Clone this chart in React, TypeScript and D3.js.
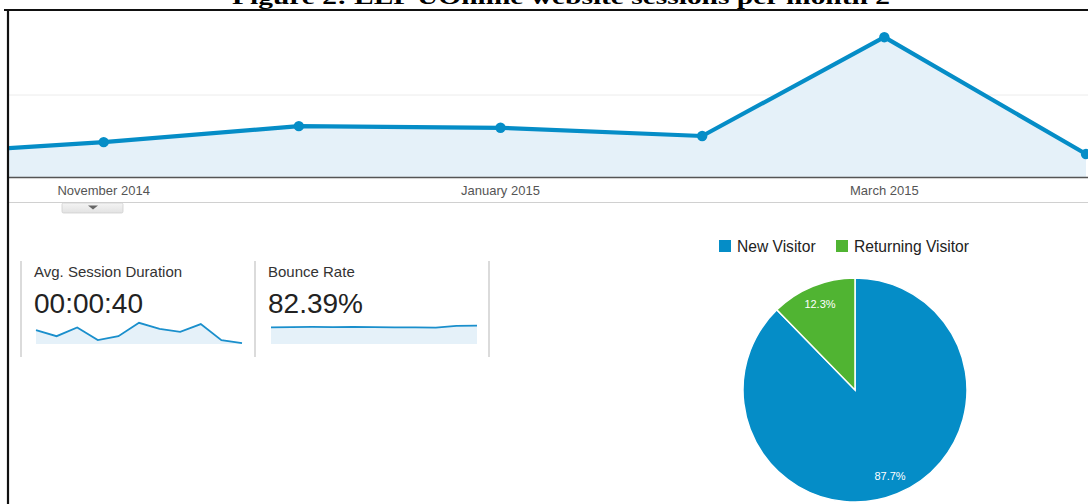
import React from "react";
import * as d3 from "d3";

const months = ["2014-10-01", "2014-11-01", "2014-12-01", "2015-01-01", "2015-02-01", "2015-03-01", "2015-04-01"];
const sessions = [54, 85, 124, 120, 100, 341, 56];
const axisTicks = ["2014-11-01", "2015-01-01", "2015-03-01"];
const tickLabels = ["November 2014", "January 2015", "March 2015"];

const durationSpark = [32, 18, 38, 9, 18, 49, 35, 28, 46, 9, 2];
const bounceSpark = [78.5, 78.8, 79.4, 79.1, 79.7, 79.1, 78.2, 78.2, 77.9, 82.0, 82.6];

const visitorTypes = ["New Visitor", "Returning Visitor"];
const visitorShares = [87.7, 12.3];
const visitorColors = ["#058dc7", "#50b432"];

const title = "Figure 2: EEP UOnline website sessions per month 2";

const W = 1088;
const H = 504;
const parse = d3.timeParse("%Y-%m-%d");

export default function App() {
  const x = d3.scaleTime().domain([parse(months[0])!, parse(months[months.length - 1])!]).range([-98, 1086]);
  const y = d3.scaleLinear().domain([0, 400]).range([177, 13]);
  const pts = months.map((m, i) => ({ d: parse(m)!, v: sessions[i] }));
  const line = d3.line<any>().x((p) => x(p.d)).y((p) => y(p.v));
  const area = d3.area<any>().x((p) => x(p.d)).y0(y(0)).y1((p) => y(p.v));

  const sx1 = d3.scaleLinear().domain([0, durationSpark.length - 1]).range([36, 242]);
  const sy1 = d3.scaleLinear().domain([0, 60]).range([344, 318]);
  const sl1 = d3.line<number>().x((_, i) => sx1(i)).y((v) => sy1(v));
  const sa1 = d3.area<number>().x((_, i) => sx1(i)).y0(344).y1((v) => sy1(v));

  const sx2 = d3.scaleLinear().domain([0, bounceSpark.length - 1]).range([271, 477]);
  const sy2 = d3.scaleLinear().domain([40, 100]).range([344, 318]);
  const sl2 = d3.line<number>().x((_, i) => sx2(i)).y((v) => sy2(v));
  const sa2 = d3.area<number>().x((_, i) => sx2(i)).y0(344).y1((v) => sy2(v));

  const pie = d3.pie<number>().sort(null).value((v) => v)(visitorShares);
  const R = 112;
  const arc = d3.arc<any>().innerRadius(0).outerRadius(R);
  const labelArc = d3.arc<any>().innerRadius(R * 0.83).outerRadius(R * 0.83);

  return (
    <svg width={W} height={H} style={{ position: "absolute", left: 0, top: 0, background: "#fff" }}
      fontFamily="Arial, 'Liberation Sans', sans-serif">
      <defs>
        <clipPath id="plot"><rect x={9} y={11} width={W - 9} height={170} /></clipPath>
        <linearGradient id="tab" x1="0" y1="0" x2="0" y2="1">
          <stop offset="0" stopColor="#f4f4f4" />
          <stop offset="1" stopColor="#e2e2e2" />
        </linearGradient>
      </defs>
      <text x={561} y={4} textAnchor="middle" fontFamily="'Liberation Serif', 'Times New Roman', serif"
        fontWeight="bold" fontSize={21} textLength={658} lengthAdjust="spacingAndGlyphs" fill="#000">{title}</text>

      {/* main chart */}
      <line x1={9} x2={W} y1={y(200)} y2={y(200)} stroke="#ececec" strokeWidth={1} />
      <g clipPath="url(#plot)">
        <path d={area(pts)!} fill="#e5f1f9" />
        <path d={line(pts)!} fill="none" stroke="#058dc7" strokeWidth={4.2} strokeLinejoin="round" />
        {pts.map((p, i) => (
          <circle key={i} cx={x(p.d)} cy={y(p.v)} r={5.2} fill="#058dc7" />
        ))}
      </g>
      <line x1={9} x2={W} y1={177.5} y2={177.5} stroke="#555" strokeWidth={1.5} />
      {axisTicks.map((t, i) => (
        <text key={t} x={x(parse(t)!)} y={195} textAnchor="middle" fontSize={13} fill="#555">{tickLabels[i]}</text>
      ))}
      <line x1={9} x2={W} y1={202.5} y2={202.5} stroke="#d0d0d0" strokeWidth={1} />
      <rect x={62} y={203} width={61} height={10} fill="url(#tab)" stroke="#cfcfcf" strokeWidth={0.8} rx={1.5} />
      <path d="M88,205.5 L98,205.5 L93,209.5 Z" fill="#666" />

      {/* metric boxes */}
      {[21, 255, 489].map((lx) => (
        <line key={lx} x1={lx} x2={lx} y1={261} y2={357} stroke="#cfcfcf" strokeWidth={1.5} />
      ))}
      <text x={34} y={277} fontSize={15} fill="#333">Avg. Session Duration</text>
      <text x={34} y={313} fontSize={28} fill="#222">00:00:40</text>
      <path d={sa1(durationSpark)!} fill="#e5f1f9" />
      <path d={sl1(durationSpark)!} fill="none" stroke="#1a8fcc" strokeWidth={1.8} />
      <text x={268} y={277} fontSize={15} fill="#333">Bounce Rate</text>
      <text x={268} y={313} fontSize={28} fill="#222">82.39%</text>
      <path d={sa2(bounceSpark)!} fill="#e5f1f9" />
      <path d={sl2(bounceSpark)!} fill="none" stroke="#1a8fcc" strokeWidth={1.8} />

      {/* legend */}
      {visitorTypes.map((t, i) => {
        const lx = i === 0 ? 719 : 836;
        return (
          <g key={t}>
            <rect x={lx} y={240} width={12} height={12} fill={visitorColors[i]} />
            <text x={lx + 18} y={252} fontSize={15.6} fill="#222">{t}</text>
          </g>
        );
      })}

      {/* pie */}
      <g transform="translate(855,390)">
        {pie.map((s, i) => (
          <path key={i} d={arc(s)!} fill={visitorColors[i]} stroke="#fff" strokeWidth={1.5} />
        ))}
        {pie.map((s, i) => {
          const [cx, cy] = labelArc.centroid(s);
          return (
            <text key={"l" + i} x={cx} y={cy} dy="0.35em" textAnchor="middle" fontSize={11} fill="#fff">
              {visitorShares[i].toFixed(1)}%
            </text>
          );
        })}
      </g>

      {/* frame */}
      <line x1={4} x2={W} y1={10} y2={10} stroke="#111" strokeWidth={2} />
      <line x1={8} x2={8} y1={9} y2={H} stroke="#111" strokeWidth={2.2} />
    </svg>
  );
}
